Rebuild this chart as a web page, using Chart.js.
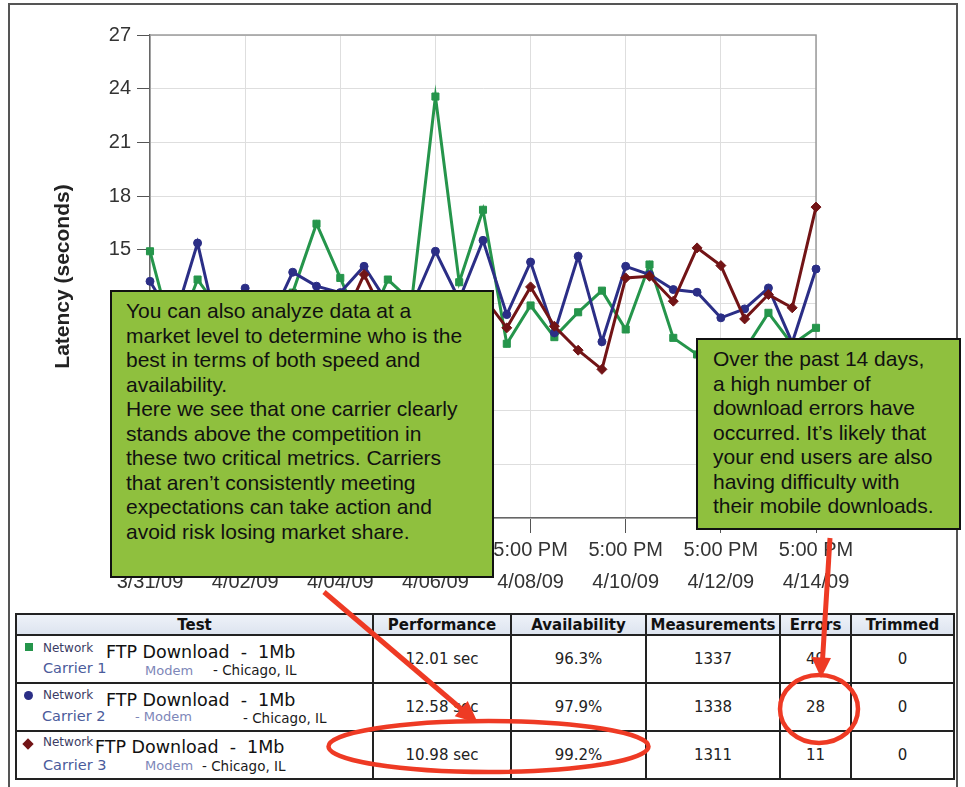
<!DOCTYPE html>
<html>
<head>
<meta charset="utf-8">
<script src="https://cdn.jsdelivr.net/npm/chart.js@4.4.1/dist/chart.umd.min.js"></script>
<style>
  html, body { margin: 0; padding: 0; background: #fff; }
  body { width: 965px; height: 787px; position: relative; overflow: hidden; font-family: "Liberation Sans", Arial, sans-serif; }
  #frame { position: absolute; left: 8px; top: 3px; width: 950px; height: 820px; border: 2px solid #555; box-sizing: border-box; }
  #chartBox { position: absolute; left: 0; top: 0; width: 965px; height: 600px; }
  .note { position: absolute; background: #8fc03e; border: 2px solid #111; box-sizing: border-box; color: #111;
          font-size: 21px; line-height: 24.5px; white-space: nowrap; }
  #note1 { left: 110px; top: 290px; width: 384px; height: 288px; padding: 7px 0 0 14px; }
  #note2 { left: 696px; top: 338px; width: 265px; height: 192px; padding: 7px 0 0 15px; }
  #tbl { position: absolute; left: 15px; top: 613px; border-collapse: collapse; table-layout: fixed;
         font-family: "DejaVu Sans", Verdana, sans-serif; color: #222; }
  #tbl th, #tbl td { border: 2px solid #222; padding: 0; text-align: center; vertical-align: middle; }
  #tbl th { height: 19px; font-size: 15px; font-weight: bold; color: #111; background: linear-gradient(#eef2f9, #dde4ef); }
  #tbl td { height: 46px; font-size: 15px; }
  .lbl { position: absolute; line-height: 1; white-space: pre; font-family: "DejaVu Sans", Verdana, sans-serif; }
  .mk { position: absolute; }
  #marks { position: absolute; left: 0; top: 0; }
</style>
</head>
<body>
<div id="frame"></div>
<div id="chartBox"><canvas id="latencyChart"></canvas></div>

<div class="note" id="note1">You can also analyze data at a<br>market level to determine who is the<br>best in terms of both speed and<br>availability.<br>Here we see that one carrier clearly<br>stands above the competition in<br>these two critical metrics. Carriers<br>that aren’t consistently meeting<br>expectations can take action and<br>avoid risk losing market share.</div>
<div class="note" id="note2">Over the past 14 days,<br>a high number of<br>download errors have<br>occurred. It’s likely that<br>your end users are also<br>having difficulty with<br>their mobile downloads.</div>

<table id="tbl">
  <colgroup>
    <col style="width:357px"><col style="width:138px"><col style="width:135px">
    <col style="width:134px"><col style="width:71px"><col style="width:103px">
  </colgroup>
  <thead><tr id="headRow"></tr></thead>
  <tbody id="tblBody"></tbody>
</table>
<div id="rowLabels"></div>

<svg id="marks" width="965" height="787">
  <line x1="324" y1="592" x2="466" y2="713" stroke="#ee3a24" stroke-width="5"/>
  <polygon points="478,723 454.7,716.3 467.7,701.1" fill="#ee3a24"/>
  <line x1="830" y1="538" x2="822.5" y2="660" stroke="#ee3a24" stroke-width="5"/>
  <polygon points="821,678 811.5,657 831,658" fill="#ee3a24"/>
  <ellipse cx="488.5" cy="746.5" rx="160" ry="25.5" fill="none" stroke="#ee3a24" stroke-width="4.5"/>
  <ellipse cx="819" cy="709" rx="39" ry="34" fill="none" stroke="#ee3a24" stroke-width="4.5"/>
</svg>

<script>
// every 12 hours, 3/31 5 PM to 4/14 5 PM
const timeLabels = [
  "3/31/09 5:00 PM", "4/01/09 5:00 AM", "4/01/09 5:00 PM", "4/02/09 5:00 AM", "4/02/09 5:00 PM",
  "4/03/09 5:00 AM", "4/03/09 5:00 PM", "4/04/09 5:00 AM", "4/04/09 5:00 PM", "4/05/09 5:00 AM",
  "4/05/09 5:00 PM", "4/06/09 5:00 AM", "4/06/09 5:00 PM", "4/07/09 5:00 AM", "4/07/09 5:00 PM",
  "4/08/09 5:00 AM", "4/08/09 5:00 PM", "4/09/09 5:00 AM", "4/09/09 5:00 PM", "4/10/09 5:00 AM",
  "4/10/09 5:00 PM", "4/11/09 5:00 AM", "4/11/09 5:00 PM", "4/12/09 5:00 AM", "4/12/09 5:00 PM",
  "4/13/09 5:00 AM", "4/13/09 5:00 PM", "4/14/09 5:00 AM", "4/14/09 5:00 PM"
];

// latency in seconds (part of it sits under the callouts)
const carrier1 = [14.91, 9.9, 13.33, 11.5, 12.0, 11.9, 12.6, 16.45, 13.42, 10.3, 13.33, 12.1, 23.56, 13.18, 17.23,
                  9.74, 11.88, 10.11, 11.5, 12.71, 10.54, 14.17, 10.07, 9.14, 8.7, 9.4, 11.47, 9.7, 10.63];
const carrier2 = [13.23, 11.0, 15.37, 9.6, 12.85, 10.9, 13.74, 12.96, 12.6, 14.07, 12.0, 11.85, 14.91, 12.2, 15.52,
                  11.37, 14.31, 10.35, 14.63, 9.85, 14.07, 13.61, 12.77, 12.62, 11.19, 11.69, 12.86, 9.8, 13.92];
const carrier3 = [12.2, 11.0, 12.4, 10.8, 11.9, 11.2, 12.5, 11.6, 10.7, 13.61, 10.9, 12.0, 11.4, 12.1, 12.4,
                  10.63, 12.92, 10.72, 9.38, 8.31, 13.42, 13.51, 12.12, 15.1, 14.11, 11.13, 12.49, 11.75, 17.38];

// table
const carriers = ["Carrier 1", "Carrier 2", "Carrier 3"];
const performance = [12.01, 12.58, 10.98];
const availability = [96.3, 97.9, 99.2];
const measurements = [1337, 1338, 1311];
const errors = [49, 28, 11];
const trimmed = [0, 0, 0];
const headers = ["Test", "Performance", "Availability", "Measurements", "Errors", "Trimmed"];

const GREEN = "#25954b", BLUE = "#2b2e86", RED = "#721416";
const FONT = "'Liberation Sans', Arial, sans-serif";

const plotFrame = {
  id: "plotFrame",
  beforeDatasetsDraw(chart) {
    const a = chart.chartArea, ctx = chart.ctx;
    ctx.save();
    ctx.strokeStyle = "#9c9c9c";
    ctx.lineWidth = 1.5;
    ctx.beginPath();
    ctx.moveTo(a.left, a.top);
    ctx.lineTo(a.right, a.top);
    ctx.lineTo(a.right, a.bottom);
    ctx.stroke();
    ctx.restore();
  }
};

new Chart(document.getElementById("latencyChart"), {
  type: "line",
  data: {
    labels: timeLabels,
    datasets: [
      { label: carriers[0], data: carrier1, borderColor: GREEN, backgroundColor: GREEN, borderWidth: 3,
        pointStyle: "rect", pointRadius: 5, pointBorderWidth: 1, order: 3 },
      { label: carriers[1], data: carrier2, borderColor: BLUE, backgroundColor: BLUE, borderWidth: 3,
        pointStyle: "circle", pointRadius: 4, pointBorderWidth: 1, order: 2 },
      { label: carriers[2], data: carrier3, borderColor: RED, backgroundColor: RED, borderWidth: 3,
        pointStyle: "rectRot", pointRadius: 5, pointBorderWidth: 1, order: 1 }
    ]
  },
  options: {
    responsive: true,
    maintainAspectRatio: false,
    animation: false,
    layout: { padding: { left: 47, top: 35, right: 149, bottom: 0 } },
    plugins: { legend: { display: false }, tooltip: { enabled: false } },
    scales: {
      x: {
        ticks: {
          autoSkip: false, maxRotation: 0, minRotation: 0, color: "#333", padding: 1,
          font: { family: FONT, size: 20, lineHeight: 1.6 },
          callback: function (value, index) {
            if (index % 4 !== 0) return "";
            const l = this.getLabelForValue(value);
            return [l.slice(8), l.slice(0, 7)];
          }
        },
        grid: {
          color: function (c) { return c.index % 4 === 0 ? "#dedede" : "rgba(0,0,0,0)"; },
          tickColor: function (c) { return c.index % 4 === 0 ? "#555" : "rgba(0,0,0,0)"; },
          tickLength: 15
        },
        border: { color: "#666", width: 1.5 },
        afterFit: function (scale) { scale.height = 82; }
      },
      y: {
        min: 0, max: 27,
        ticks: { stepSize: 3, color: "#333", padding: 6, font: { family: FONT, size: 20 } },
        grid: { color: "#dedede", tickColor: "#555", tickLength: 13 },
        border: { color: "#666", width: 1.5 },
        title: { display: true, text: "Latency (seconds)", color: "#222",
                 font: { family: FONT, size: 21, weight: "bold" }, padding: { top: 4, bottom: 4 } },
        afterFit: function (scale) { scale.width = 103; }
      }
    }
  },
  plugins: [plotFrame]
});

// ---- table
const headRow = document.getElementById("headRow");
headers.forEach(function (h) {
  const th = document.createElement("th");
  th.textContent = h;
  headRow.appendChild(th);
});

const body = document.getElementById("tblBody");
carriers.forEach(function (c, i) {
  const tr = document.createElement("tr");
  const cells = ["", performance[i].toFixed(2) + " sec", availability[i].toFixed(1) + "%",
                 String(measurements[i]), String(errors[i]), String(trimmed[i])];
  cells.forEach(function (txt) {
    const td = document.createElement("td");
    td.textContent = txt;
    tr.appendChild(td);
  });
  body.appendChild(tr);
});

// ---- labels in the Test column (page coordinates, baseline y)
const rowLayout = [
  { mark: "sq", mx: 29, my: 647, net: [43, 651.7], ftp: [106, 659.3], car: [43, 673.3], modem: [145, 675, "Modem"], city: [213, 675.3] },
  { mark: "ci", mx: 28, my: 695, net: [43, 699], ftp: [106, 706.7], car: [42, 721], modem: [135, 721, "- Modem"], city: [243, 723] },
  { mark: "di", mx: 28, my: 744, net: [43, 746], ftp: [95, 754], car: [43, 770], modem: [145, 770, "Modem"], city: [202, 771.7] }
];
const markColors = [GREEN, BLUE, RED];
const holder = document.getElementById("rowLabels");

function addText(txt, x, baseline, size, color) {
  const d = document.createElement("div");
  d.className = "lbl";
  d.textContent = txt;
  d.style.left = x + "px";
  d.style.top = (baseline - 0.846 * size) + "px";
  d.style.fontSize = size + "px";
  d.style.color = color;
  holder.appendChild(d);
}

rowLayout.forEach(function (r, i) {
  const m = document.createElement("div");
  m.className = "mk";
  m.style.background = markColors[i];
  if (r.mark === "sq") {
    m.style.width = "8px"; m.style.height = "8px";
    m.style.left = (r.mx - 4) + "px"; m.style.top = (r.my - 4) + "px";
  } else if (r.mark === "ci") {
    m.style.width = "9px"; m.style.height = "9px"; m.style.borderRadius = "50%";
    m.style.left = (r.mx - 4.5) + "px"; m.style.top = (r.my - 4.5) + "px";
  } else {
    m.style.width = "8px"; m.style.height = "8px"; m.style.transform = "rotate(45deg)";
    m.style.left = (r.mx - 4) + "px"; m.style.top = (r.my - 4) + "px";
  }
  holder.appendChild(m);
  addText("Network", r.net[0], r.net[1], 12, "#3c3c64");
  addText("FTP Download  -  1Mb", r.ftp[0], r.ftp[1], 17.5, "#111");
  addText(carriers[i], r.car[0], r.car[1], 14.5, "#4a5b9b");
  addText(r.modem[2], r.modem[0], r.modem[1], 13, "#7d86b8");
  addText("- Chicago, IL", r.city[0], r.city[1], 13.5, "#1a1a1a");
});
</script>
</body>
</html>
